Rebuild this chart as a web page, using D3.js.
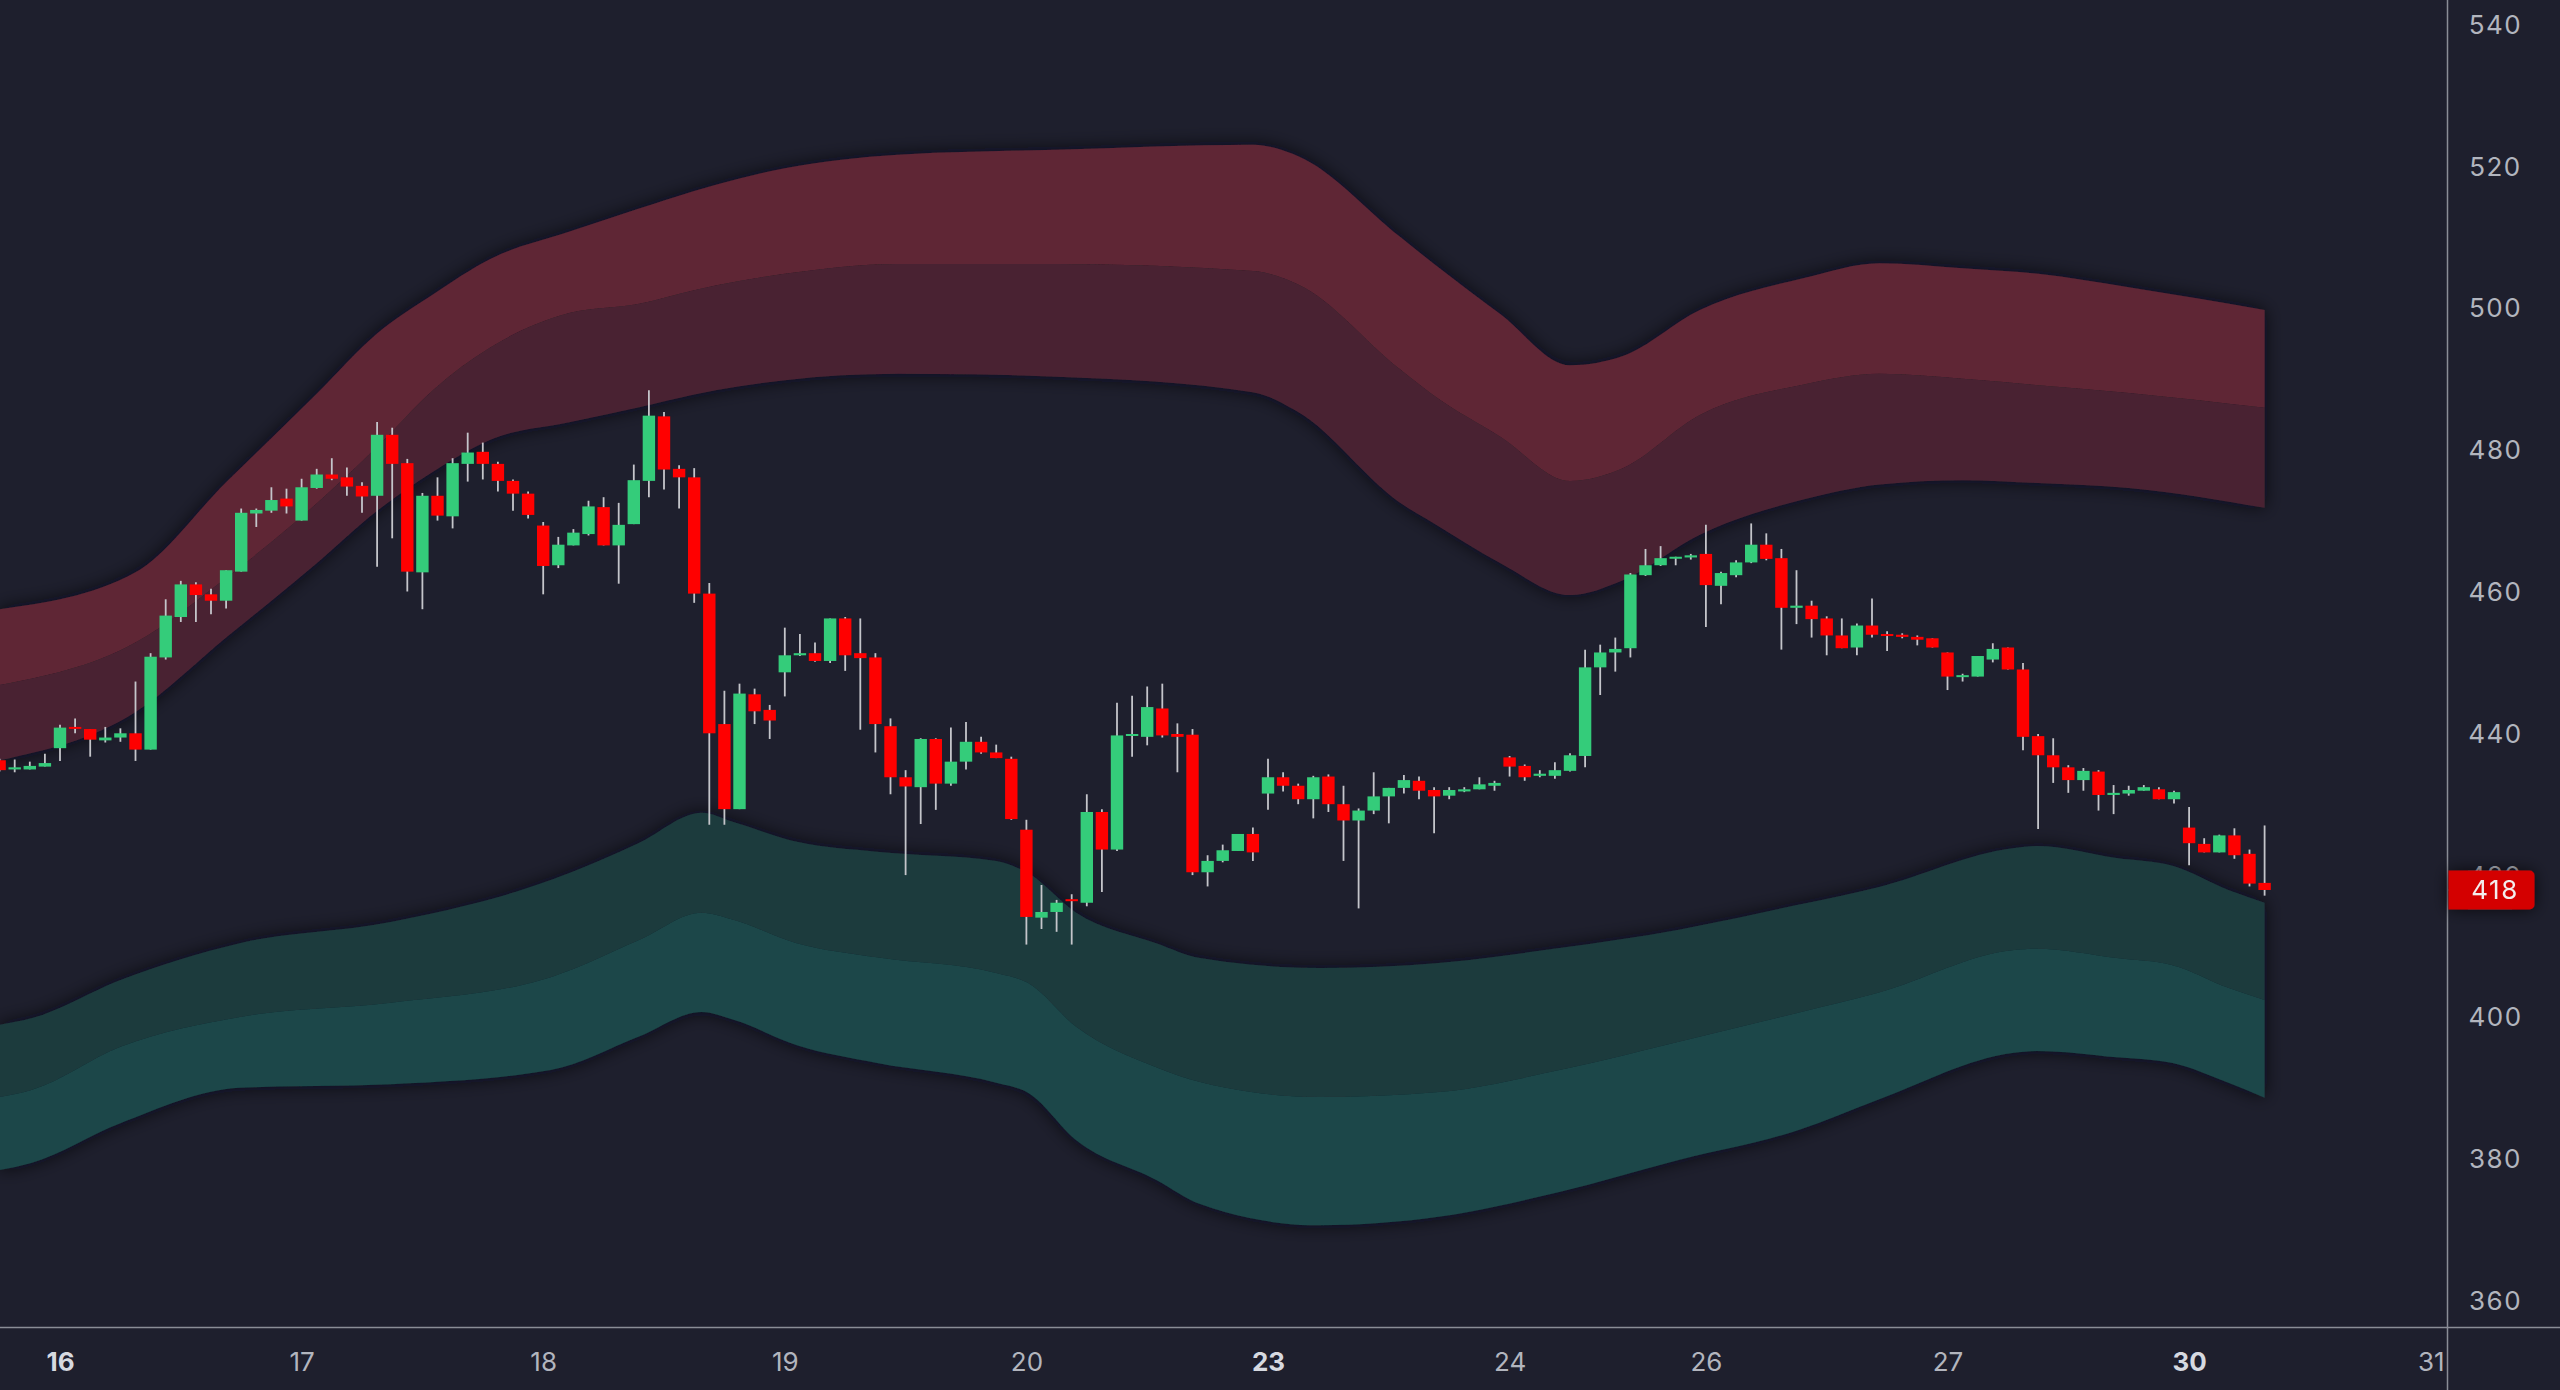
<!DOCTYPE html>
<html>
<head>
<meta charset="utf-8">
<script src="https://cdn.jsdelivr.net/npm/d3@7"></script>
<style>
    html, body { margin: 0; padding: 0; background: #1e1f2d; }
    svg { display: block; }
</style>
</head>
<body>
<div id="chart"></div>
<script>

// DATA
// ================================================================================== //

// hourly bars, index 0 = first bar of the 16th (4 bars of the 15th before it)
const firstBar = -4;

const opens = [
    436.3, 435.0, 435.0, 435.4,
    438.0, 441.0, 440.7, 439.1, 439.5, 440.1, 437.8, 450.8, 456.5, 461.1, 459.7, 458.8, 462.9, 471.1, 471.5, 473.2,
    470.1, 474.7, 476.6, 476.2, 475.0, 473.6, 482.2, 478.2, 462.8, 473.6, 470.7, 478.1, 479.8, 478.1, 475.7, 473.9,
    469.4, 463.8, 466.6, 468.2, 472.0, 466.6, 469.6, 475.7, 484.8, 477.4, 476.2, 459.8, 441.4, 429.4, 445.6, 443.4,
    448.7, 451.1, 451.4, 450.3, 456.3, 451.4, 450.8, 441.1, 433.9, 432.5, 439.3, 433.0, 436.1, 438.9, 437.4, 436.5,
    426.5, 414.1, 414.9, 416.7, 416.2, 429.0, 423.7, 439.8, 439.6, 443.6, 440.0, 439.9, 420.5, 422.1, 423.5, 425.9,
    431.6, 433.9, 432.7, 430.8, 434.0, 430.1, 427.8, 429.2, 431.2, 432.4, 433.4, 432.1, 431.3, 431.9, 432.2, 432.7,
    436.7, 435.5, 434.1, 434.1, 434.8, 436.9, 449.4, 451.5, 452.1, 462.4, 463.8, 464.8, 464.9,
    465.4, 460.9, 462.4, 464.2, 466.7, 464.8, 457.8, 458.1, 456.3, 453.9, 452.2, 455.3, 454.1, 454.0, 453.7, 453.5,
    451.5, 448.1, 448.1, 450.5, 452.2, 449.1, 439.7, 437.0, 435.3, 433.5, 434.7, 431.4, 431.6, 432.0, 432.2, 430.8,
    426.8, 424.5, 423.3, 425.7, 423.1, 419.0
];
const highs = [
    436.5, 436.4, 436.1, 437.2,
    441.3, 442.2, 440.7, 441.0, 440.8, 447.4, 451.4, 459.0, 461.6, 461.4, 460.5, 463.1, 471.8, 471.8, 474.8, 474.6,
    476.0, 477.4, 478.9, 477.6, 475.5, 484.0, 483.2, 478.8, 474.0, 476.2, 478.9, 482.5, 481.1, 478.4, 475.9, 474.2,
    469.9, 467.8, 468.9, 472.9, 473.4, 472.6, 478.0, 488.5, 485.4, 477.9, 477.5, 461.3, 446.1, 447.1, 446.4, 444.1,
    455.0, 454.1, 452.9, 456.3, 456.5, 456.3, 451.4, 442.2, 434.9, 439.4, 439.4, 440.9, 441.7, 439.6, 438.5, 436.8,
    427.9, 418.7, 416.6, 417.4, 431.5, 429.4, 444.4, 445.4, 446.7, 447.1, 441.5, 440.7, 422.9, 424.4, 425.9, 426.8,
    436.5, 434.6, 433.0, 434.1, 434.3, 432.7, 429.5, 434.6, 432.4, 434.2, 434.0, 432.5, 432.5, 432.5, 433.9, 433.4,
    436.9, 435.7, 434.9, 436.0, 437.3, 451.9, 452.6, 453.6, 462.7, 466.1, 466.5, 465.0, 465.4,
    469.5, 462.9, 464.5, 469.7, 468.3, 466.1, 463.1, 458.8, 456.6, 456.3, 455.6, 459.1, 454.5, 454.2, 453.9, 453.5,
    451.5, 448.5, 451.0, 452.8, 452.2, 450.0, 440.0, 439.4, 435.6, 435.2, 434.9, 432.8, 432.7, 432.8, 432.5, 432.0,
    429.7, 425.3, 425.8, 426.7, 423.7, 427.1
];
const lows = [
    434.7, 434.6, 435.0, 435.4,
    436.2, 440.1, 436.8, 438.8, 438.9, 436.2, 437.8, 450.5, 455.8, 455.8, 456.9, 457.7, 462.9, 469.2, 471.2, 471.1,
    470.1, 474.6, 475.8, 473.6, 471.2, 463.6, 467.6, 460.1, 457.6, 470.1, 469.0, 475.6, 475.9, 474.2, 471.5, 470.4,
    459.7, 463.4, 466.6, 468.0, 466.6, 461.2, 469.6, 473.4, 474.5, 471.8, 458.5, 427.2, 427.2, 429.4, 441.4, 439.3,
    445.3, 451.0, 450.2, 450.0, 448.9, 440.6, 437.4, 431.5, 420.1, 427.3, 429.3, 432.7, 435.0, 437.2, 436.6, 427.9,
    410.3, 412.5, 412.1, 410.3, 415.7, 417.7, 423.5, 436.8, 438.4, 439.5, 434.6, 420.1, 418.5, 421.9, 423.5, 422.1,
    429.3, 431.9, 430.1, 428.1, 429.0, 422.1, 415.4, 428.7, 427.4, 431.6, 430.8, 426.0, 430.8, 431.8, 432.2, 432.0,
    434.0, 433.4, 433.9, 433.7, 434.7, 435.3, 445.5, 448.8, 450.8, 462.3, 463.7, 463.8, 464.6,
    455.1, 458.3, 462.1, 464.1, 464.5, 451.9, 455.5, 453.6, 451.1, 452.1, 451.1, 453.6, 451.7, 453.5, 452.5, 452.2,
    446.2, 447.4, 448.1, 450.1, 449.1, 437.7, 426.6, 433.1, 431.7, 432.0, 429.2, 428.7, 431.3, 432.0, 430.8, 430.2,
    421.5, 423.3, 423.3, 422.4, 418.5, 417.2
];
const closes = [
    434.9, 435.3, 435.5, 435.9,
    440.9, 440.8, 439.2, 439.5, 440.1, 437.8, 450.9, 456.7, 461.1, 459.6, 458.8, 463.1, 471.2, 471.6, 473.0, 472.1,
    474.8, 476.6, 476.0, 474.9, 473.5, 482.2, 478.1, 462.9, 473.6, 470.8, 478.2, 479.7, 478.1, 475.7, 473.9, 470.9,
    463.7, 466.7, 468.4, 472.1, 466.6, 469.5, 475.8, 484.9, 477.3, 476.2, 459.8, 440.1, 429.4, 445.7, 443.2, 441.9,
    451.1, 451.4, 450.3, 456.3, 451.1, 450.7, 441.4, 433.9, 432.6, 439.3, 433.0, 436.1, 438.9, 437.4, 436.6, 428.0,
    414.2, 414.9, 416.2, 416.5, 429.0, 423.7, 439.8, 440.0, 443.8, 439.8, 439.6, 420.5, 422.1, 423.6, 425.9, 423.3,
    433.9, 432.7, 430.8, 433.9, 430.1, 427.8, 429.2, 431.2, 432.4, 433.5, 432.0, 431.2, 432.1, 432.2, 432.9, 433.1,
    435.4, 433.9, 434.4, 434.9, 437.0, 449.4, 451.5, 452.0, 462.5, 463.8, 464.8, 465.0, 465.2,
    461.0, 462.7, 464.2, 466.7, 464.7, 457.8, 458.1, 456.2, 453.9, 452.1, 455.3, 454.0, 453.9, 453.7, 453.3, 452.2,
    448.1, 448.3, 451.0, 452.0, 449.1, 439.6, 437.0, 435.3, 433.5, 434.8, 431.4, 431.7, 432.1, 432.5, 430.8, 431.8,
    424.6, 423.3, 425.7, 422.9, 418.9, 418.0
];

// session labels on the time axis and the bar where each session starts
const dayLabels = ["16", "17", "18", "19", "20", "23", "24", "26", "27", "30", "31"];
const dayStarts = [0, 16, 32, 48, 64, 80, 96, 109, 125, 141, 157];
const weekStarts = ["16", "23", "30"];

const priceTicks = [360, 380, 400, 420, 440, 460, 480, 500, 520, 540];
const lastPrice = 418;

// upper (red) envelope: outer line, middle line, inner line
const redBars = [-4, 5, 11, 17, 21, 24.7, 28.5, 33.8, 38.2, 42, 48, 55.5, 66, 79, 82, 88.7, 91, 95.4, 100, 103.5, 108.6, 115.5, 120.5, 126, 131, 137, 146];
const redTop = [457.6, 462.8, 475.5, 488.0, 496.5, 502.0, 507.0, 510.9, 514.0, 516.6, 519.8, 521.7, 522.4, 523.1, 521.5, 510.2, 506.3, 499.2, 492.0, 493.3, 499.8, 504.3, 506.4, 505.7, 504.9, 503.0, 499.8];
const redMid = [446.9, 452.9, 462.0, 472.5, 480.5, 488.5, 494.5, 499.4, 500.6, 502.6, 504.9, 506.3, 506.3, 505.3, 503.4, 491.5, 487.7, 481.9, 475.7, 477.5, 485.0, 489.3, 490.8, 490.1, 489.2, 488.1, 486.0];
const redBot = [436.3, 443.1, 453.6, 464.1, 471.5, 477.0, 481.5, 484.0, 486.0, 487.9, 489.9, 490.8, 490.4, 488.2, 485.4, 472.7, 469.7, 464.1, 459.6, 461.7, 468.1, 473.1, 475.2, 475.8, 475.4, 474.7, 471.9];

// lower (green) envelope: inner line, middle line, outer line
const greenBars = [-4, -1.9, 4, 11.9, 21.9, 32.5, 38.3, 42.5, 44.6, 48.8, 54.1, 62, 64.1, 67.3, 72.6, 75.5, 83.4, 91.3, 99.3, 107.2, 115.1, 120.4, 129.3, 130.9, 136.2, 139.9, 143.6, 146];
const greenTop = [399.0, 399.9, 405.3, 410.5, 413.5, 419.4, 424.6, 428.9, 427.6, 424.8, 423.4, 422.1, 420.4, 414.8, 410.5, 408.4, 407.0, 407.7, 409.8, 412.4, 415.9, 418.4, 423.9, 424.2, 422.5, 421.4, 418.0, 416.2];
const greenMid = [388.8, 389.8, 395.9, 400.1, 402.1, 405.7, 410.9, 414.8, 413.8, 410.5, 408.5, 406.3, 404.9, 398.7, 393.0, 390.9, 388.8, 389.5, 392.6, 396.6, 400.7, 403.5, 409.5, 409.7, 408.4, 407.4, 404.2, 402.5];
const greenBot = [378.5, 379.5, 385.1, 390.1, 390.6, 392.6, 397.3, 400.8, 399.7, 396.1, 393.6, 390.8, 389.4, 382.7, 377.1, 373.7, 370.7, 371.9, 375.4, 379.9, 384.1, 388.4, 395.0, 395.3, 394.4, 393.6, 390.8, 388.7];

// ================================================================================== //
// DATA END


const width = 2560
const height = 1390
const plotRight = 2447.5
const plotBottom = 1327.5

const colors = {
    bg: "#1e1f2d",
    up: "#34cc7a",
    down: "#ff0000",
    wick: "#c4c5ca",
    redOuter: "#5e2636",
    redInner: "#4a2433",
    greenInner: "#1d3a3e",
    greenOuter: "#1b4648",
    axisLine: "#8a8d96",
    axisText: "#b2b5be",
}

const bars = opens.map((o, k) => ({
    i: firstBar + k, o, h: highs[k], l: lows[k], c: closes[k]
}))

const redBand = redBars.map((g, k) => ({ g, top: redTop[k], mid: redMid[k], bot: redBot[k] }))
const greenBand = greenBars.map((g, k) => ({ g, top: greenTop[k], mid: greenMid[k], bot: greenBot[k] }))

// bar index -> pixels, price -> pixels
const x = d3.scaleLinear()
    .domain([-4, 157])
    .range([-0.4, 2430.7])

const y = d3.scaleLinear()
    .domain([360, 540])
    .range([1301.2, 25])

const svg = d3.select("#chart")
    .append("svg")
    .attr("width", width)
    .attr("height", height)
    .attr("viewBox", [0, 0, width, height])
    .attr("style", `background-color:${colors.bg}; font-family: Inter, Roboto, sans-serif`)

const defs = svg.append("defs")

defs.append("clipPath")
    .attr("id", "plotClip")
    .append("rect")
    .attr("x", 0).attr("y", 0)
    .attr("width", plotRight).attr("height", plotBottom)

// dark soft shadow around the envelopes
const shadow = defs.append("filter")
    .attr("id", "bandShadow")
    .attr("x", "-5%").attr("y", "-30%")
    .attr("width", "110%").attr("height", "160%")
shadow.append("feGaussianBlur").attr("in", "SourceAlpha").attr("stdDeviation", 9).attr("result", "blur")
shadow.append("feFlood").attr("flood-color", "#0c0c14").attr("flood-opacity", 0.75)
shadow.append("feComposite").attr("in2", "blur").attr("operator", "in").attr("result", "shade")
const merge = shadow.append("feMerge")
merge.append("feMergeNode").attr("in", "shade")
merge.append("feMergeNode").attr("in", "SourceGraphic")

const labelShadow = defs.append("filter")
    .attr("id", "labelShadow")
    .attr("x", "-40%").attr("y", "-60%")
    .attr("width", "180%").attr("height", "220%")
labelShadow.append("feDropShadow")
    .attr("dx", 0).attr("dy", 0).attr("stdDeviation", 8)
    .attr("flood-color", "#0c0c14").attr("flood-opacity", 0.7)

const plot = svg.append("g").attr("clip-path", "url(#plotClip)")

const bandArea = (a, b) => d3.area()
    .x(d => x(d.g))
    .y0(d => y(d[b]))
    .y1(d => y(d[a]))
    .curve(d3.curveMonotoneX)

// ENVELOPES
const redGroup = plot.append("g").attr("filter", "url(#bandShadow)")
redGroup.append("path").datum(redBand).attr("d", bandArea("top", "mid")).attr("fill", colors.redOuter)
redGroup.append("path").datum(redBand).attr("d", bandArea("mid", "bot")).attr("fill", colors.redInner)

const greenGroup = plot.append("g").attr("filter", "url(#bandShadow)")
greenGroup.append("path").datum(greenBand).attr("d", bandArea("top", "mid")).attr("fill", colors.greenInner)
greenGroup.append("path").datum(greenBand).attr("d", bandArea("mid", "bot")).attr("fill", colors.greenOuter)

// CANDLES
const bodyWidth = 12.4
const candles = plot.append("g")
    .selectAll("g")
    .data(bars)
    .join("g")

candles.append("line")
    .attr("x1", d => x(d.i)).attr("x2", d => x(d.i))
    .attr("y1", d => y(d.h)).attr("y2", d => y(d.l))
    .attr("stroke", colors.wick)
    .attr("stroke-width", 1.8)

candles.append("rect")
    .attr("x", d => x(d.i) - bodyWidth / 2)
    .attr("y", d => y(Math.max(d.o, d.c)))
    .attr("width", bodyWidth)
    .attr("height", d => Math.max(2, Math.abs(y(d.o) - y(d.c))))
    .attr("fill", d => d.c >= d.o ? colors.up : colors.down)

// AXES
const yAxis = g => g
    .attr("transform", `translate(${plotRight},0)`)
    .call(d3.axisRight(y).tickValues(priceTicks).tickSize(0).tickPadding(48))
    .call(g => g.select(".domain").remove())
    .call(g => g.selectAll("text")
        .attr("text-anchor", "middle")
        .attr("fill", colors.axisText)
        .attr("font-size", 26)
        .attr("letter-spacing", 1.5)
        .attr("font-family", "Inter, Roboto, sans-serif"))

const xAxis = g => g
    .attr("transform", `translate(0,${plotBottom})`)
    .call(d3.axisBottom(x).tickValues(dayStarts).tickFormat((d, k) => dayLabels[k]).tickSize(0).tickPadding(25))
    .call(g => g.select(".domain").remove())
    .call(g => g.selectAll("text")
        .attr("fill", d => weekStarts.includes(dayLabels[dayStarts.indexOf(d)]) ? "#d6d9e0" : colors.axisText)
        .attr("font-weight", d => weekStarts.includes(dayLabels[dayStarts.indexOf(d)]) ? 700 : 400)
        .attr("font-size", 26)
        .attr("font-family", "Inter, Roboto, sans-serif"))

svg.append("g").call(yAxis)
svg.append("g").call(xAxis)

svg.append("line")
    .attr("x1", plotRight).attr("x2", plotRight)
    .attr("y1", 0).attr("y2", height)
    .attr("stroke", colors.axisLine).attr("stroke-width", 1.5)

svg.append("line")
    .attr("x1", 0).attr("x2", width)
    .attr("y1", plotBottom).attr("y2", plotBottom)
    .attr("stroke", colors.axisLine).attr("stroke-width", 1.5)

// last price marker
const tagH = 39
const tagW = 86
const tagY = y(lastPrice) - tagH / 2
const r = 5
const tag = svg.append("g").attr("filter", "url(#labelShadow)")
tag.append("path")
    .attr("d", `M${plotRight + 1},${tagY} h${tagW - r} a${r},${r} 0 0 1 ${r},${r} v${tagH - 2 * r} a${r},${r} 0 0 1 -${r},${r} h-${tagW - r} Z`)
    .attr("fill", "#d40505")
tag.append("text")
    .attr("x", 2495)
    .attr("y", y(lastPrice))
    .attr("dy", "0.36em")
    .attr("text-anchor", "middle")
    .attr("fill", "#f3eded")
    .attr("font-size", 26)
    .attr("letter-spacing", 1.5)
    .attr("font-family", "Inter, Roboto, sans-serif")
    .text(lastPrice)

</script>
</body>
</html>
